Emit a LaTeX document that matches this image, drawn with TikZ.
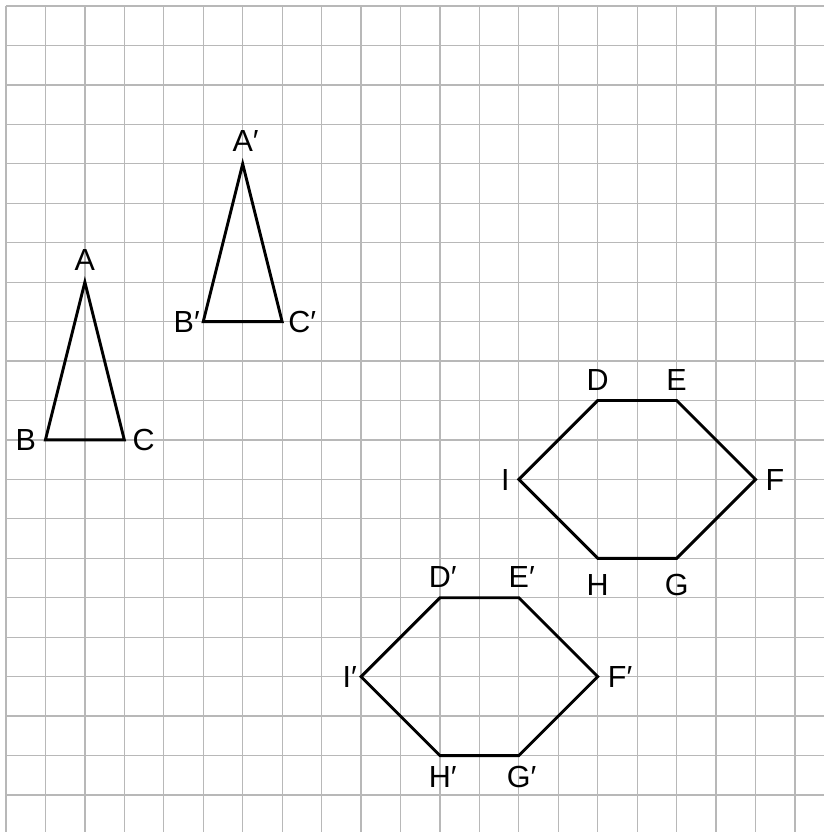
\documentclass[tikz,border=0pt]{standalone}
\usepackage{fontspec}
\setmainfont{Liberation Sans}
\usetikzlibrary{positioning}
\begin{document}
\begin{tikzpicture}[x=1cm, y=-1cm,
    gridline/.style={black!28, line width=0.9pt},
    figline/.style={black, line width=2.1pt},
    lbl/.style={font=\fontsize{22}{26}\selectfont, inner sep=0pt, text height=15.8pt, text depth=0pt}]
        \useasboundingbox (-0.152,-0.152) rectangle (20.735,20.938);
        \fill[white] (-0.152,-0.152) rectangle (20.735,20.938);
        % grid
        \foreach \i in {0,...,20}
          \draw[gridline] (\i,0) -- (\i,20.938);
        \foreach \j in {0,...,20}
          \draw[gridline] (0,\j) -- (20.735,\j);
        % vertices
        \foreach \p/\xx/\yy in {A/2/7,B/1/11,C/3/11,Ap/6/4,Bp/5/8,Cp/7/8,
            D/15/10,E/17/10,F/19/12,G/17/14,H/15/14,I/13/12,
            Dp/11/15,Ep/13/15,Fp/15/17,Gp/13/19,Hp/11/19,Ip/9/17}
          \coordinate (\p) at (\xx,\yy);
        % triangles
        \draw[figline] (A) -- (B) -- (C) -- cycle;
        \draw[figline] (Ap) -- (Bp) -- (Cp) -- cycle;
        % hexagons
        \draw[figline] (D) -- (E) -- (F) -- (G) -- (H) -- (I) -- cycle;
        \draw[figline] (Dp) -- (Ep) -- (Fp) -- (Gp) -- (Hp) -- (Ip) -- cycle;
        % labels
        \node[lbl, above=0.28cm of A] (lA) {A};
        \node[lbl, left=0.23cm of B] (lB) {B};
        \node[lbl, right=0.2cm of C] (lC) {C};
        \node[lbl, above=0.3cm of Ap] (lAp) {A\rlap{′}};
        \node[lbl, left=0.08cm of Bp] (lBp) {B′};
        \node[lbl, right=0.15cm of Cp] (lCp) {C′};
        \node[lbl, above=0.25cm of D] (lD) {D};
        \node[lbl, above=0.25cm of E] (lE) {E};
        \node[lbl, right=0.25cm of F] (lF) {F};
        \node[lbl, below=0.38cm of G] (lG) {G};
        \node[lbl, below=0.38cm of H] (lH) {H};
        \node[lbl, left=0.23cm of I] (lI) {I};
        \node[lbl, above=0.25cm of Dp] (lDp) {D\rlap{′}};
        \node[lbl, above=0.25cm of Ep] (lEp) {E\rlap{′}};
        \node[lbl, right=0.25cm of Fp] (lFp) {F′};
        \node[lbl, below=0.25cm of Gp] (lGp) {G\rlap{′}};
        \node[lbl, below=0.25cm of Hp] (lHp) {H\rlap{′}};
        \node[lbl, left=0.1cm of Ip] (lIp) {I′};
      \end{tikzpicture}
\end{document}
